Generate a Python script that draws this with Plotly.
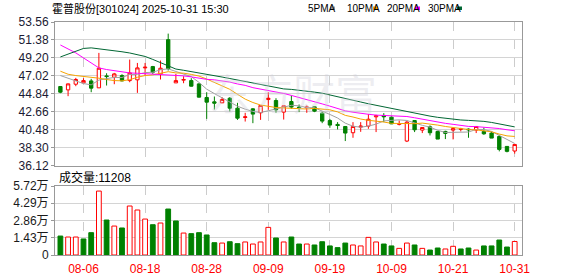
import plotly.graph_objects as go

dates = ["08-01", "08-04", "08-05", "08-06", "08-07", "08-08", "08-11", "08-12", "08-13", "08-14",
         "08-15", "08-18", "08-19", "08-20", "08-21", "08-22", "08-25", "08-26", "08-27", "08-28",
         "08-29", "09-01", "09-02", "09-03", "09-04", "09-05", "09-08", "09-09", "09-10", "09-11",
         "09-12", "09-15", "09-16", "09-17", "09-18", "09-19", "09-22", "09-23", "09-24", "09-25",
         "09-26", "09-29", "09-30", "10-09", "10-10", "10-13", "10-14", "10-15", "10-16", "10-17",
         "10-20", "10-21", "10-22", "10-23", "10-24", "10-27", "10-28", "10-29", "10-30", "10-31"]

opens = [45.73, 45.32, 46.01, 46.17, 46.41, 45.57, 47.02, 46.86, 47.06, 46.45,
         46.54, 47.99, 48.15, 47.26, 51.42, 46.17, 46.50, 46.45, 46.05, 44.40,
         43.87, 43.75, 44.31, 43.10, 41.97, 43.02, 42.54, 44.15, 44.03, 42.62,
         43.91, 43.23, 43.14, 43.27, 42.50, 41.60, 41.13, 40.88, 40.12, 40.80,
         40.92, 42.05, 42.22, 42.01, 41.13, 39.11, 41.60, 40.44, 40.84, 40.28,
         40.28, 40.44, 40.54, 40.56, 40.44, 40.28, 40.08, 39.67, 38.46, 37.90]
highs = [45.77, 46.09, 46.78, 46.74, 46.66, 49.81, 47.34, 47.38, 47.22, 49.00,
         48.59, 48.59, 48.23, 48.88, 52.15, 47.26, 46.98, 46.74, 46.13, 45.04,
         44.52, 44.44, 44.44, 43.75, 42.54, 43.10, 43.43, 45.04, 44.31, 43.39,
         44.64, 43.55, 43.43, 43.35, 42.70, 41.80, 41.41, 40.88, 41.41, 41.41,
         42.38, 42.30, 42.50, 42.09, 41.60, 41.53, 41.64, 40.80, 41.01, 40.36,
         40.36, 40.66, 40.72, 40.64, 40.92, 40.76, 40.28, 39.87, 38.46, 38.70]
lows = [44.92, 44.56, 45.77, 46.17, 45.04, 45.57, 45.85, 46.01, 46.37, 46.25,
        44.96, 47.06, 47.26, 46.58, 47.67, 46.17, 46.13, 45.73, 44.40, 41.80,
        42.94, 43.75, 42.70, 41.68, 41.48, 41.28, 41.68, 42.90, 42.54, 41.72,
        43.02, 42.62, 42.54, 42.62, 41.28, 40.72, 40.52, 39.11, 39.51, 40.23,
        40.60, 40.20, 41.41, 41.17, 41.01, 38.99, 40.20, 40.08, 39.79, 39.35,
        39.35, 39.31, 40.28, 39.51, 40.08, 39.87, 39.47, 37.86, 37.74, 37.58]
closes = [45.04, 46.05, 46.58, 46.45, 45.53, 47.95, 46.94, 47.26, 46.41, 47.38,
          47.99, 48.07, 47.46, 47.95, 47.90, 46.45, 46.58, 45.77, 44.44, 43.83,
          43.71, 44.15, 43.10, 41.89, 42.05, 42.38, 43.43, 44.31, 42.90, 43.39,
          43.23, 43.14, 43.23, 42.74, 41.53, 41.05, 41.00, 40.08, 40.88, 40.92,
          41.76, 42.17, 42.05, 41.20, 41.24, 41.41, 40.48, 40.76, 40.12, 39.35,
          40.04, 40.62, 40.58, 40.48, 40.88, 39.99, 39.47, 38.10, 37.86, 38.70]

ma5 = [47.06, 46.74, 46.41, 46.09, 45.93, 46.51, 46.69, 46.83, 46.82, 47.19,
       47.20, 47.42, 47.46, 47.77, 47.87, 47.57, 47.27, 46.93, 46.23, 45.41,
       44.87, 44.38, 43.85, 43.34, 42.98, 42.71, 42.57, 42.81, 43.01, 43.28,
       43.45, 43.39, 43.18, 43.15, 42.77, 42.34, 41.91, 41.28, 40.91, 40.79,
       40.93, 41.16, 41.56, 41.62, 41.68, 41.61, 41.28, 41.02, 40.80, 40.42,
       40.15, 40.18, 40.14, 40.21, 40.52, 40.51, 40.28, 39.78, 39.26, 38.82]
ma10 = [47.59, 47.22, 47.06, 46.98, 46.86, 46.74, 46.58, 46.45, 46.42, 46.56,
        46.85, 47.06, 47.14, 47.29, 47.53, 47.38, 47.35, 47.20, 47.00, 46.64,
        46.22, 45.82, 45.39, 44.78, 44.20, 43.79, 43.48, 43.33, 43.18, 43.13,
        43.08, 42.98, 43.00, 43.08, 43.03, 42.90, 42.65, 42.23, 42.03, 41.78,
        41.63, 41.54, 41.42, 41.26, 41.24, 41.27, 41.22, 41.29, 41.21, 41.05,
        40.88, 40.73, 40.58, 40.51, 40.47, 40.33, 40.23, 39.96, 39.74, 39.67]
ma20 = [50.77, 50.29, 49.81, 49.20, 48.59, 47.99, 47.79, 47.63, 47.46, 47.38,
        47.34, 47.30, 47.26, 47.22, 47.18, 47.10, 47.02, 46.90, 46.74, 46.60,
        46.54, 46.44, 46.27, 46.04, 45.87, 45.59, 45.42, 45.27, 45.09, 44.89,
        44.65, 44.40, 44.20, 43.93, 43.62, 43.35, 43.07, 42.78, 42.61, 42.46,
        42.36, 42.26, 42.21, 42.17, 42.14, 42.09, 41.94, 41.76, 41.62, 41.42,
        41.26, 41.14, 41.00, 40.89, 40.86, 40.80, 40.73, 40.63, 40.48, 40.36]
ma30 = [49.32, 49.65, 50.00, 50.35, 50.42, 50.32, 50.15, 50.05, 49.95, 49.80,
        49.58, 49.38, 49.02, 48.62, 48.22, 47.85, 47.70, 47.55, 47.40, 47.22,
        47.05, 46.88, 46.70, 46.52, 46.33, 46.13, 45.95, 45.78, 45.60, 45.44,
        45.38, 45.29, 45.18, 45.05, 44.92, 44.69, 44.49, 44.25, 44.07, 43.85,
        43.64, 43.45, 43.27, 43.04, 42.82, 42.65, 42.45, 42.28, 42.14, 41.99,
        41.86, 41.75, 41.67, 41.62, 41.58, 41.50, 41.37, 41.16, 40.99, 40.83]

volumes = [15700, 14900, 14900, 13300, 18500, 53000, 29000, 24000, 22400, 40600,
           37300, 29800, 25100, 26500, 38100, 28200, 18200, 17700, 18500, 16600,
           10200, 9900, 11000, 9400, 10800, 9100, 10800, 22900, 14100, 10800,
           14900, 9100, 9100, 8300, 11000, 7500, 6100, 9900, 8300, 7500,
           14600, 10800, 9100, 7500, 5500, 9900, 8300, 5500, 4100, 5800,
           5000, 7200, 5000, 5800, 4100, 7500, 7500, 12400, 6600, 11208]

price_ticks = [36.12, 38.30, 40.48, 42.66, 44.84, 47.02, 49.20, 51.38, 53.56]
vol_ticks = [0, 14300, 28600, 42900, 57200]
vol_tick_labels = ["0", "1.43万", "2.86万", "4.29万", "5.72万"]
x_tick_labels = ["08-06", "08-18", "08-28", "09-09", "09-19", "10-09", "10-21", "10-31"]

title_text = "霍普股份[301024] 2025-10-31 15:30"
ma_names = ["5PMA", "10PMA", "20PMA", "30PMA"]
ma_colors = ["#a0a0a0", "#f5a300", "#ff00ff", "#006633"]

# ---- geometry (pixels) ----
W, H = 578, 276
PL, PR, PT, PB = 55, 522, 22, 255


def px(x):
    return (x - PL) / (PR - PL)


def py(y):
    return (PB - y) / (PB - PT)


idx = list(range(len(dates)))
x_tick_vals = [dates.index(d) for d in x_tick_labels]
xr = [-0.70, 59.95]

RED, GREEN = "#ff0000", "#008000"
up = []
for i in idx:
    ref = closes[i - 1] if i > 0 else opens[i]
    up.append(closes[i] >= ref)

fig = go.Figure()
fig.add_trace(go.Candlestick(
    x=idx, open=opens, high=highs, low=lows, close=closes,
    increasing=dict(line=dict(color=RED, width=1), fillcolor="#ffffff"),
    decreasing=dict(line=dict(color=GREEN, width=1), fillcolor=GREEN),
    whiskerwidth=0, showlegend=False, xaxis="x", yaxis="y", hoverinfo="skip"))

for vals, col in zip([ma5, ma10, ma20, ma30], ma_colors):
    fig.add_trace(go.Scatter(x=idx, y=vals, mode="lines", line=dict(color=col, width=1),
                             showlegend=False, xaxis="x", yaxis="y", hoverinfo="skip"))

fig.add_trace(go.Bar(
    x=idx, y=volumes,
    marker=dict(color=["#ffffff" if u else GREEN for u in up],
                line=dict(color=[RED if u else GREEN for u in up], width=1)),
    showlegend=False, xaxis="x2", yaxis="y2", hoverinfo="skip"))

FRAME = "#999999"
GRID = "#d4d4d4"
main_bottom = py(165.7)
vol_top = py(186)

fig.update_layout(
    width=W, height=H,
    margin=dict(l=PL, r=W - PR, t=PT, b=H - PB, pad=0, autoexpand=False),
    paper_bgcolor="#ffffff", plot_bgcolor="#ffffff",
    font=dict(family="Liberation Sans, Noto Sans CJK SC, sans-serif", size=12, color="#222222"),
    boxgap=0.38, bargap=0.38,
    xaxis=dict(domain=[0, 1], anchor="y", range=xr, tickvals=x_tick_vals, showticklabels=False,
               showgrid=True, gridcolor="#cccccc", griddash="dash", gridwidth=1,
               showline=True, mirror=True, linecolor=FRAME, linewidth=1, zeroline=False,
               rangeslider=dict(visible=False), ticks="", automargin=False),
    yaxis=dict(domain=[main_bottom, 1], anchor="x", range=[price_ticks[0], price_ticks[-1]],
               tickvals=price_ticks, ticktext=["%.2f" % v for v in price_ticks],
               showgrid=True, gridcolor=GRID, showline=True, mirror=True, linecolor=FRAME,
               zeroline=False, ticks="outside", ticklen=3, tickcolor=FRAME,
               tickfont=dict(size=12, color="#1a1a33"), automargin=False),
    xaxis2=dict(domain=[0, 1], anchor="y2", range=xr, tickvals=x_tick_vals, ticktext=x_tick_labels,
                tickfont=dict(size=12, color=RED), showgrid=True, gridcolor="#cccccc",
                griddash="dash", showline=True, mirror=True, linecolor=FRAME, zeroline=False,
                ticks="outside", ticklen=3, tickcolor="rgba(0,0,0,0)", automargin=False),
    yaxis2=dict(domain=[0, vol_top], anchor="x2", range=[0, vol_ticks[-1]],
                tickvals=vol_ticks, ticktext=vol_tick_labels,
                showgrid=True, gridcolor=GRID, showline=True, mirror=True, linecolor=FRAME,
                zeroline=False, ticks="outside", ticklen=3, tickcolor=FRAME,
                tickfont=dict(size=12, color="#1a1a1a"), automargin=False),
)

annotations = [
    dict(text=title_text, x=px(50), y=py(9), xref="paper", yref="paper",
         xanchor="left", yanchor="middle", showarrow=False,
         font=dict(size=11, color="#000000")),
    dict(text="成交量:" + str(volumes[-1]), x=px(57), y=py(177), xref="paper", yref="paper",
         xanchor="left", yanchor="middle", showarrow=False,
         font=dict(size=12, color="#000000")),
    dict(text="东方财富", x=px(293), y=py(91), xref="paper", yref="paper",
         xanchor="center", yanchor="middle", showarrow=False,
         font=dict(size=42, color="rgba(205,205,215,0.35)",
                   family="Noto Sans CJK SC, sans-serif")),
]
legend_x = [306, 345, 385, 426]
square_x = [330, 373, 415, 457]
shapes = []
for name, col, lx, sx in zip(ma_names, ma_colors, legend_x, square_x):
    annotations.append(dict(text=name, x=px(lx), y=py(8.5), xref="paper", yref="paper",
                            xanchor="left", yanchor="middle", showarrow=False,
                            font=dict(size=10, color="#000000",
                                      family="Liberation Sans Narrow, Liberation Sans, sans-serif")))
    shapes.append(dict(type="rect", xref="paper", yref="paper",
                       x0=px(sx), x1=px(sx + 5), y0=py(10), y1=py(6.5),
                       fillcolor=col, line=dict(width=0)))

fig.update_layout(annotations=annotations, shapes=shapes)
fig.write_html("out.html")
